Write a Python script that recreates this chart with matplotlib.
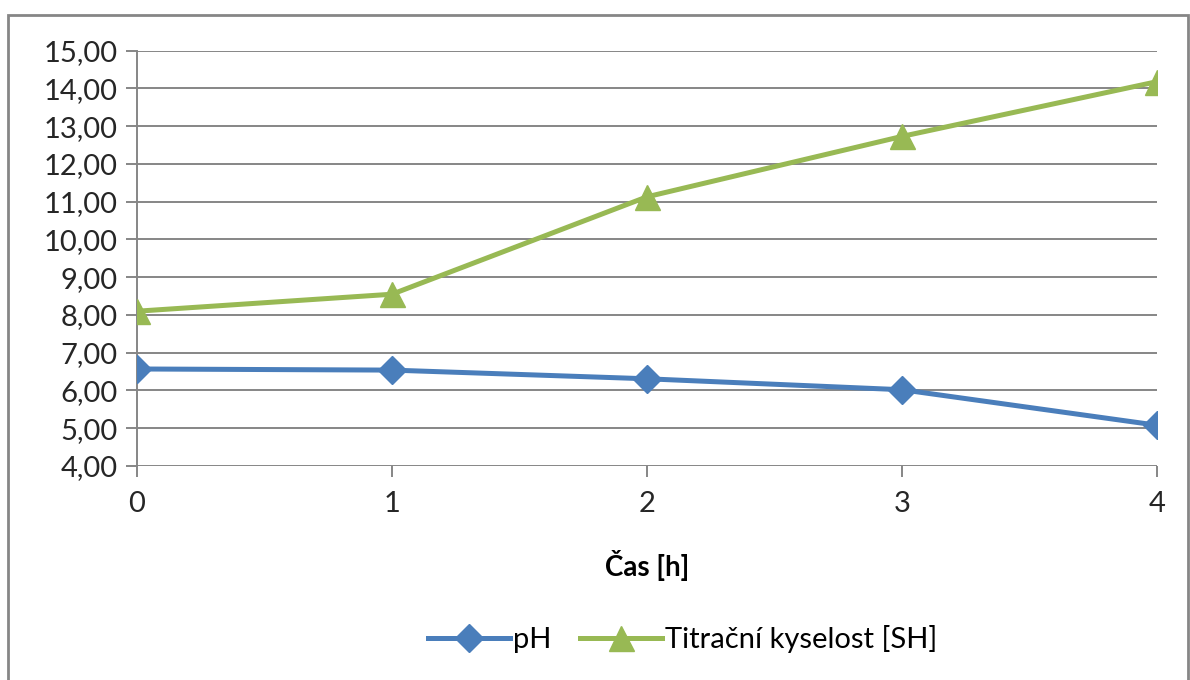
import matplotlib.pyplot as plt
from matplotlib.patches import Rectangle

# data
cas = [0, 1, 2, 3, 4]
ph = [6.57, 6.54, 6.31, 6.02, 5.08]
kyselost = [8.10, 8.55, 11.13, 12.73, 14.18]
yticks = [4, 5, 6, 7, 8, 9, 10, 11, 12, 13, 14, 15]

plt.rcParams['font.family'] = ['Lato', 'DejaVu Sans']

fig = plt.figure(figsize=(11.9, 6.8), dpi=100)
ax = fig.add_axes([137/1190, 1-466/680, (1157-137)/1190, (466-50.7)/680])

ax.plot(cas, ph, color='#4A7EBB', lw=3.6, marker='D', ms=14, label='pH', zorder=3)
ax.plot(cas, kyselost, color='#98B954', lw=3.6, marker='^', ms=18,
        label='Titrační kyselost [SH]', zorder=3)

ax.set_xlim(0, 4)
ax.set_ylim(4, 15)
ax.set_yticks(yticks)
ax.set_yticklabels([('%.2f' % v).replace('.', ',') for v in yticks])
ax.set_xticks(cas)
ax.grid(axis='y', color='#868686', lw=1.4)
ax.set_axisbelow(True)
for s in ['top', 'right', 'bottom']:
    ax.spines[s].set_visible(False)
ax.spines['left'].set_color('#868686')
ax.spines['left'].set_linewidth(1.4)
ax.tick_params(axis='both', colors='#868686', length=8, width=1.4, labelsize=21,
               labelcolor='#262626')
ax.tick_params(axis='x', pad=10)
ax.tick_params(axis='y', pad=6)
for t in ax.get_xticklabels() + ax.get_yticklabels():
    t.set_clip_on(False)
ax.set_xlabel('Čas [h]', fontsize=20, fontweight='bold', labelpad=24, color='black')

ax.legend(loc='upper center', bbox_to_anchor=(0.535, -0.32), ncol=2, frameon=False,
          fontsize=21, handlelength=2.8, handletextpad=0.1, columnspacing=1.0)

# outer chart frame
fig.patches.append(Rectangle((8/1190, -0.1), 1180/1190, 1.1 - 15/680, transform=fig.transFigure,
                             fill=False, edgecolor='#868686', lw=2))

fig.savefig('out.png', dpi=100)
